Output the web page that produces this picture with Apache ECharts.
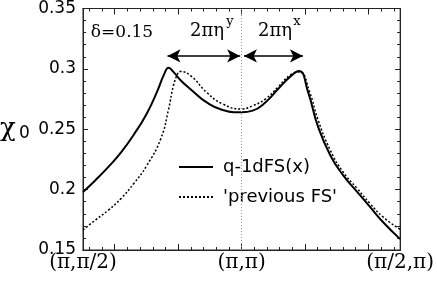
<!DOCTYPE html>
<html><head><meta charset="utf-8">
<script src="https://cdn.jsdelivr.net/npm/echarts@6/dist/echarts.min.js"></script>
<style>html,body{margin:0;padding:0;background:#fff}#c{width:437px;height:291px}</style>
</head><body><div id="c"></div>
<script>
// ---- data ----
const solidX = [-1.00,-0.92,-0.84,-0.76,-0.68,-0.60,-0.53,-0.49,-0.46,-0.43,-0.38,-0.32,-0.22,-0.12,0.00,0.07,0.15,0.23,0.31,0.362,0.42,0.48,0.56,0.64,0.73,0.81,0.89,1.00];
const solidY = [0.198,0.2080,0.2188,0.2308,0.2455,0.2625,0.2820,0.2950,0.3010,0.2975,0.2900,0.2830,0.2722,0.2660,0.2640,0.2654,0.2722,0.2833,0.2940,0.2983,0.2805,0.2530,0.2283,0.2120,0.1980,0.1857,0.1734,0.1590];
const prevX = [-1.00,-0.92,-0.84,-0.76,-0.68,-0.60,-0.51,-0.46,-0.43,-0.40,-0.39,-0.32,-0.22,-0.12,0.00,0.07,0.15,0.23,0.31,0.365,0.43,0.48,0.56,0.64,0.73,0.81,0.89,1.00];
const prevY = [0.1666,0.1750,0.1830,0.1927,0.2050,0.2195,0.2420,0.2668,0.2860,0.2970,0.2978,0.2942,0.2805,0.2710,0.2668,0.2695,0.2750,0.2850,0.2952,0.2975,0.2805,0.2586,0.2325,0.2146,0.2008,0.1885,0.1776,0.1670];
const seriesNames = ['q-1dFS(x)', "'previous FS'"];
const xLabelPos = [-1, 0, 1];
const xLabels = ['(π,π/2)', '(π,π)', '(π/2,π)'];
const xMajorTicks = [-0.8, -0.4, 0, 0.4, 0.8];
const xMinorTicks = [-0.96,-0.88,-0.72,-0.64,-0.56,-0.48,-0.32,-0.24,-0.16,-0.08,0.08,0.16,0.24,0.32,0.48,0.56,0.64,0.72,0.88,0.96];
const yMin = 0.15, yMax = 0.35, yStep = 0.05;
const arrowLevel = 0.3107;
const etaYSpan = [-0.467, -0.009];
const etaXSpan = [0.015, 0.387];
const deltaText = 'δ=0.15';
const yName = 'χ';

const zip = (xs, ys) => xs.map((x, i) => [x, ys[i]]);
const chart = echarts.init(document.getElementById('c'), null, {renderer: 'canvas'});
const black = '#000';
const frame = {show: true, onZero: false, lineStyle: {color: '#222', width: 1}};
function xAx(pos, ticks, len, labels) {
  return {
    type: 'value', min: -1, max: 1, position: pos,
    axisLine: frame,
    axisTick: {show: true, inside: true, length: len, customValues: ticks, lineStyle: {color: '#222', width: 1}},
    axisLabel: labels ? {
      show: true, customValues: xLabelPos, margin: 3, color: black,
      fontFamily: 'DejaVu Serif', fontSize: 20,
      formatter: v => xLabels[xLabelPos.indexOf(Math.round(v))] || ''
    } : {show: false},
    splitLine: {show: false}
  };
}
function yAx(pos, labels) {
  return {
    type: 'value', min: yMin, max: yMax, interval: yStep, position: pos,
    axisLine: frame,
    axisTick: {show: true, inside: true, length: 5, lineStyle: {color: '#222'}},
    minorTick: {show: true, splitNumber: 5, length: 3, lineStyle: {color: '#222'}},
    axisLabel: labels ? {show: true, margin: 7, color: black, fontFamily: 'DejaVu Sans', fontSize: 17} : {show: false},
    splitLine: {show: false}, minorSplitLine: {show: false}
  };
}
const serifT = (x, y, text, size, align) => ({
  type: 'text', x: x, y: y,
  style: {text: text, font: size + 'px "DejaVu Serif"', fill: black, align: align || 'center', verticalAlign: 'middle'}
});
chart.setOption({
  animation: false,
  grid: {left: 83, right: 31, top: 7, bottom: 41, containLabel: false, show: true, borderColor: '#222', borderWidth: 1, backgroundColor: 'transparent'},
  xAxis: [xAx('bottom', xMajorTicks, 6, true), xAx('bottom', xMinorTicks, 3, false),
          xAx('top', xMajorTicks, 6, false), xAx('top', xMinorTicks, 3, false)],
  yAxis: [yAx('left', true), yAx('right', false)],
  legend: {
    orient: 'vertical', left: 178, top: 157, padding: 0, itemWidth: 34, itemHeight: 14, itemGap: 10,
    itemStyle: {opacity: 0},
    textStyle: {fontFamily: 'DejaVu Sans', fontSize: 18, color: black, lineHeight: 20, padding: [0, 0, 0, 5]},
    data: seriesNames
  },
  series: [
    {
      name: seriesNames[0], type: 'line', data: zip(solidX, solidY), symbol: 'none', smooth: 0.5,
      lineStyle: {color: black, width: 2}, itemStyle: {color: black}, z: 3,
      markLine: {
        silent: true, symbol: ['arrow', 'arrow'], symbolSize: [10, 13], label: {show: false},
        lineStyle: {color: black, width: 1.5, type: 'solid'},
        data: [
          [{coord: [etaYSpan[0], arrowLevel]}, {coord: [etaYSpan[1], arrowLevel]}],
          [{coord: [etaXSpan[0], arrowLevel]}, {coord: [etaXSpan[1], arrowLevel]}]
        ]
      }
    },
    {
      name: seriesNames[1], type: 'line', data: zip(prevX, prevY), symbol: 'none', smooth: 0.5,
      lineStyle: {color: black, width: 1.5, type: [2, 2]}, itemStyle: {color: black}, z: 2,
      markLine: {
        silent: true, symbol: 'none', label: {show: false},
        lineStyle: {color: '#999', width: 1, type: [1, 2]},
        data: [{xAxis: 0}]
      }
    }
  ],
  graphic: [
    serifT(122, 33, deltaText, 17),
    serifT(207, 31, '2πη', 18),
    {type: 'text', x: 230, y: 22, style: {text: 'y', font: '13px "DejaVu Serif"', fill: black, align: 'center', verticalAlign: 'middle'}},
    serifT(275, 31, '2πη', 18),
    {type: 'text', x: 297, y: 22, style: {text: 'x', font: '13px "DejaVu Serif"', fill: black, align: 'center', verticalAlign: 'middle'}},
    {type: 'text', x: 0, y: 129, style: {text: yName, font: '26px "DejaVu Serif"', fill: black, align: 'left', verticalAlign: 'middle'}},
    {type: 'text', x: 19, y: 134, style: {text: '0', font: '17px "DejaVu Sans"', fill: black, align: 'left', verticalAlign: 'middle'}}
  ]
});
</script></body></html>
